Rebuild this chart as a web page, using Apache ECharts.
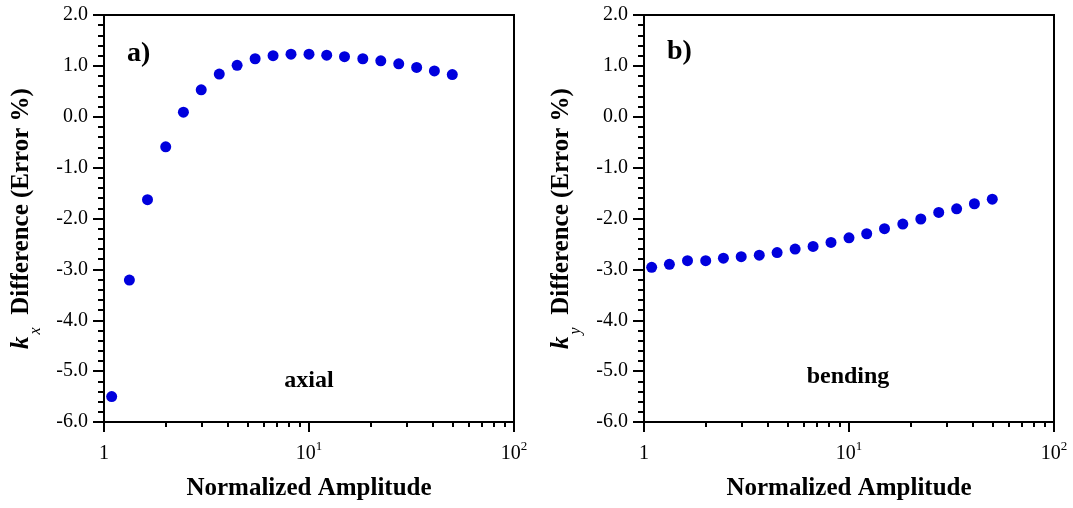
<!DOCTYPE html>
<html>
<head>
<meta charset="utf-8">
<script src="https://cdn.jsdelivr.net/npm/echarts@6/dist/echarts.min.js"></script>
<style>
  html, body { margin: 0; padding: 0; background: #fff; }
  #chart { width: 1073px; height: 508px; }
</style>
</head>
<body>
<div id="chart"></div>
<script>
// Normalized amplitude at which both stiffness components were evaluated
const amplitude = [1.09, 1.33, 1.63, 2.0, 2.44, 2.98, 3.65, 4.46, 5.46, 6.68,
                   8.17, 10.0, 12.2, 14.9, 18.3, 22.4, 27.4, 33.5, 40.9, 50.0];
// k_x difference, axial (error %)
const axialError = [-5.50, -3.21, -1.63, -0.59, 0.09, 0.53, 0.84, 1.01, 1.14, 1.20,
                    1.23, 1.23, 1.21, 1.18, 1.14, 1.10, 1.04, 0.97, 0.90, 0.83];
// k_y difference, bending (error %)
const bendingError = [-2.96, -2.90, -2.83, -2.83, -2.78, -2.75, -2.72, -2.67, -2.60, -2.55,
                      -2.47, -2.38, -2.30, -2.20, -2.11, -2.01, -1.88, -1.81, -1.71, -1.62];
// Minor tick positions on the logarithmic amplitude axis
const minorAmplitudeTicks = [2, 3, 4, 5, 6, 7, 8, 9, 20, 30, 40, 50, 60, 70, 80, 90];

const FONT = '"Liberation Serif", "Times New Roman", serif';
const INK = '#000';
const DOT = '#0000dd';

const chart = echarts.init(document.getElementById('chart'), null, { renderer: 'canvas' });

const grids = [
  { left: 104, right: 559, top: 15, bottom: 86 },
  { left: 644, right: 19, top: 15, bottom: 86 }
].map(g => Object.assign({ show: true, borderColor: INK, borderWidth: 2, backgroundColor: 'transparent' }, g));

function mainXAxis(gridIndex) {
  return {
    type: 'log', gridIndex, min: 1, max: 100, logBase: 10, splitNumber: 2,
    position: 'bottom',
    name: 'Normalized Amplitude', nameLocation: 'middle', nameGap: 54,
    nameTextStyle: { fontFamily: FONT, fontWeight: 'bold', fontSize: 25, color: INK },
    axisLine: { show: true, onZero: false, lineStyle: { color: INK, width: 2 } },
    axisTick: { show: true, length: 10, lineStyle: { color: INK, width: 2 } },
    splitLine: { show: false },
    axisLabel: {
      margin: 18, color: INK, fontFamily: FONT,
      formatter: v => v === 1 ? '{b|1}' : '{b|10}{s|' + Math.round(Math.log10(v)) + '}',
      rich: {
        b: { fontFamily: FONT, fontSize: 20, lineHeight: 28, color: INK },
        s: { fontFamily: FONT, fontSize: 13, lineHeight: 14, verticalAlign: 'top', color: INK }
      }
    }
  };
}

function minorXAxis(gridIndex) {
  return {
    type: 'log', gridIndex, min: 1, max: 100, logBase: 10,
    position: 'bottom',
    axisLine: { show: false, onZero: false },
    axisLabel: { show: false },
    splitLine: { show: false },
    axisTick: { show: true, length: 5, customValues: minorAmplitudeTicks, lineStyle: { color: INK, width: 2 } }
  };
}

function yAxis(gridIndex, sub) {
  return {
    type: 'value', gridIndex, min: -6, max: 2, interval: 1,
    name: '{k|k}{s|' + sub + '}{t|  Difference (Error %)}',
    nameLocation: 'middle', nameGap: 60, nameRotate: 90,
    nameTextStyle: {
      rich: {
        k: { fontFamily: FONT, fontWeight: 'bold', fontStyle: 'italic', fontSize: 25, lineHeight: 44, color: INK, padding: [0, 2, 0, 0] },
        s: { fontFamily: FONT, fontStyle: 'italic', fontSize: 16, lineHeight: 16, verticalAlign: 'bottom', color: INK },
        t: { fontFamily: FONT, fontWeight: 'bold', fontSize: 25, lineHeight: 44, color: INK }
      }
    },
    axisLine: { show: true, onZero: false, lineStyle: { color: INK, width: 2 } },
    axisTick: { show: true, length: 11, lineStyle: { color: INK, width: 2 } },
    minorTick: { show: true, splitNumber: 5, length: 6, lineStyle: { color: INK, width: 2 } },
    splitLine: { show: false },
    minorSplitLine: { show: false },
    axisLabel: {
      margin: 16, color: INK, fontFamily: FONT, fontSize: 20,
      formatter: v => v.toFixed(1)
    }
  };
}

function panelText(x, y, text, size, align) {
  return {
    type: 'text', x, y, silent: true,
    style: {
      text, fill: INK, align: align || 'left', verticalAlign: 'middle',
      font: 'bold ' + size + 'px ' + FONT
    }
  };
}

chart.setOption({
  backgroundColor: '#fff',
  animation: false,
  grid: grids,
  xAxis: [mainXAxis(0), minorXAxis(0), mainXAxis(1), minorXAxis(1)],
  yAxis: [yAxis(0, 'x'), yAxis(1, 'y')],
  series: [
    {
      type: 'scatter', xAxisIndex: 0, yAxisIndex: 0,
      symbol: 'circle', symbolSize: 11,
      itemStyle: { color: DOT, opacity: 1 },
      data: amplitude.map((a, i) => [a, axialError[i]])
    },
    {
      type: 'scatter', xAxisIndex: 2, yAxisIndex: 1,
      symbol: 'circle', symbolSize: 11,
      itemStyle: { color: DOT, opacity: 1 },
      data: amplitude.map((a, i) => [a, bendingError[i]])
    }
  ],
  graphic: [
    panelText(127, 54, 'a)', 28),
    panelText(667, 52, 'b)', 28),
    panelText(309, 381, 'axial', 24, 'center'),
    panelText(848, 377, 'bending', 24, 'center')
  ]
});
</script>
</body>
</html>
